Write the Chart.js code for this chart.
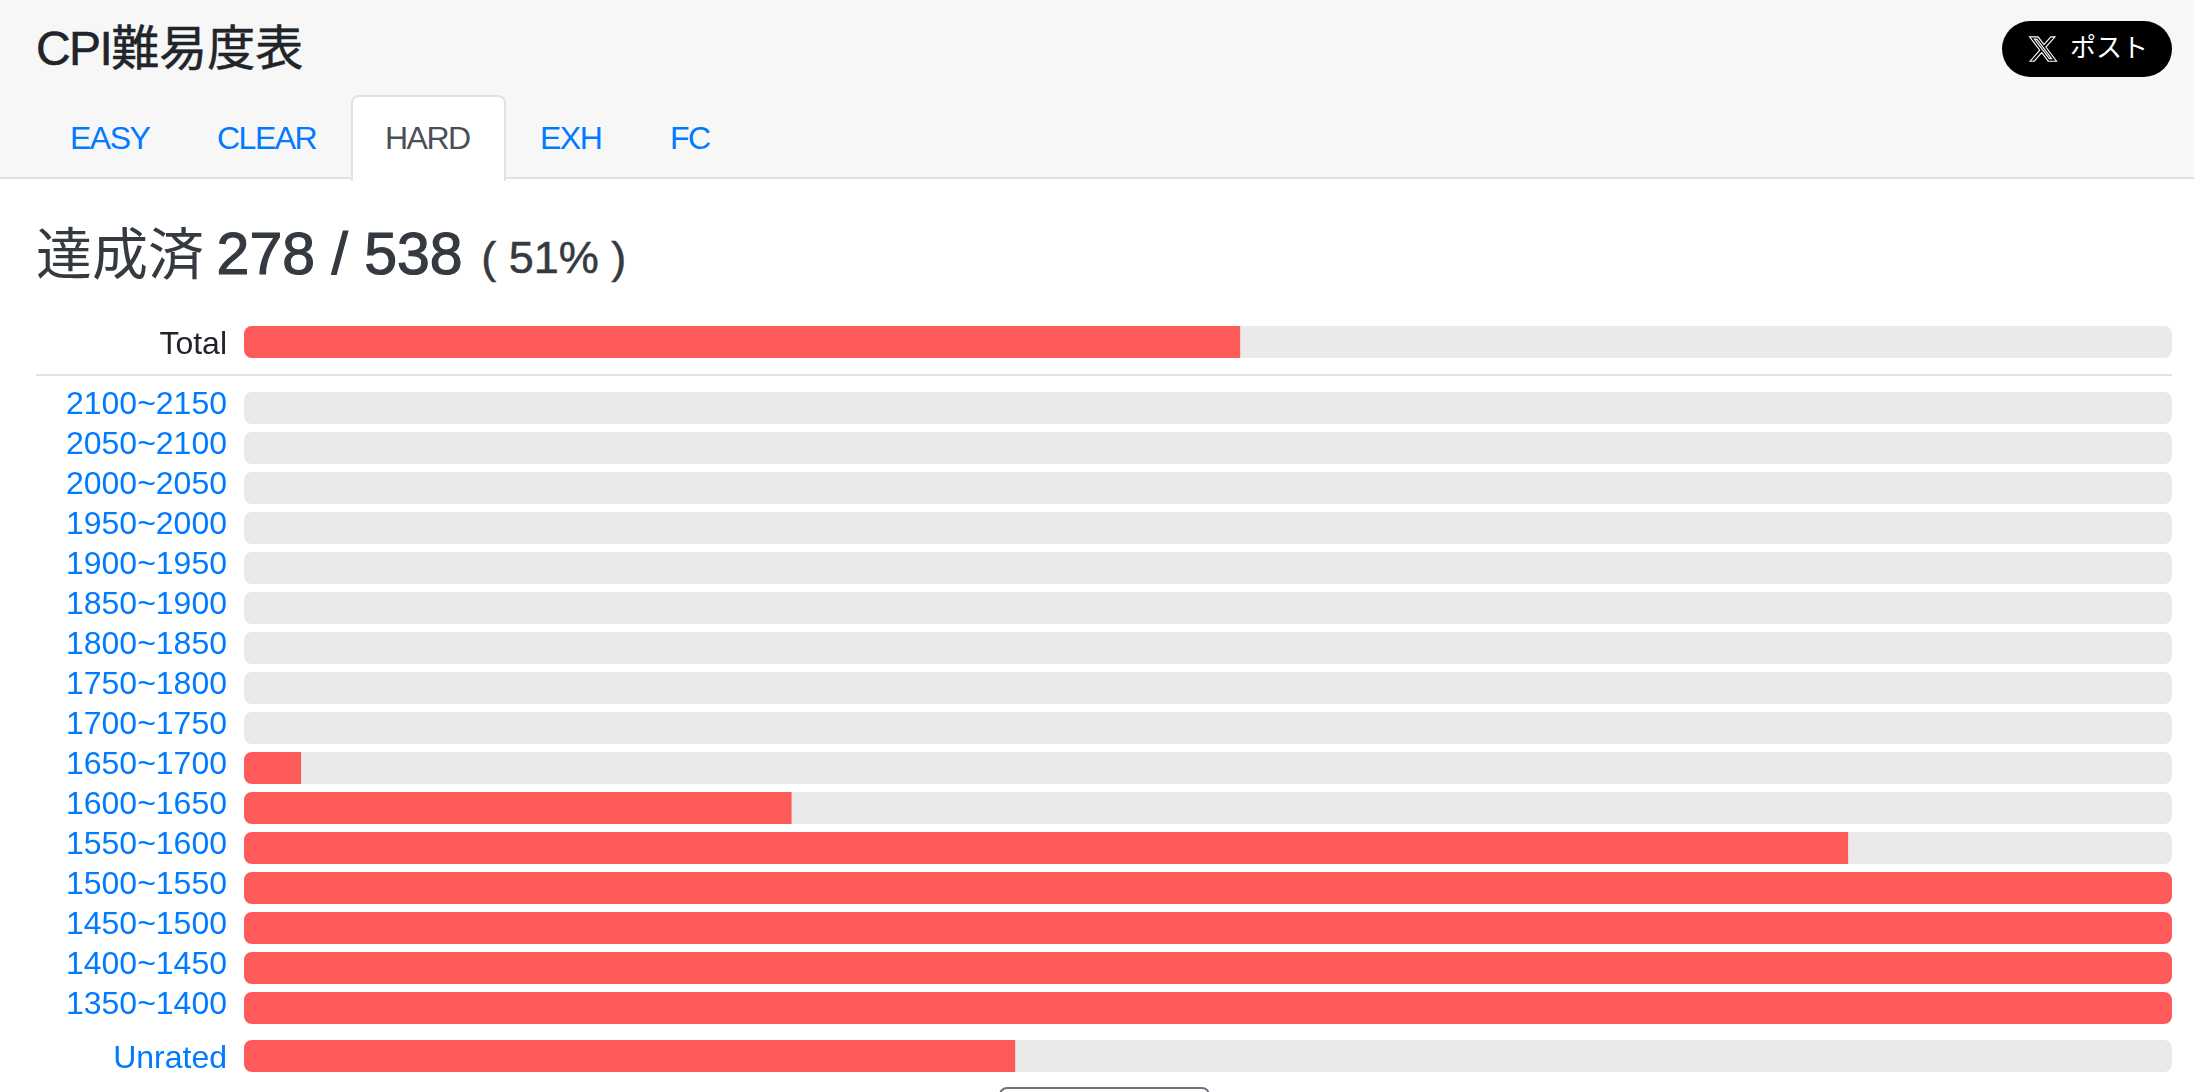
<!DOCTYPE html>
<html lang="ja">
<head>
<meta charset="utf-8">
<title>CPI難易度表</title>
<script src="https://cdn.jsdelivr.net/npm/chart.js@4"></script>
<style>
html, body { margin: 0; padding: 0; background: #fff; overflow: hidden; }
body { width: 2194px; height: 1092px; position: relative; font-family: "Liberation Sans", "Noto Sans CJK JP", sans-serif; }
.header { position: absolute; left: 0; top: 0; width: 2194px; height: 177px; background: #f7f7f7; border-bottom: 2px solid #dee2e6; }
.title { position: absolute; left: 36px; top: 20px; font-size: 48px; line-height: 58px; color: #212529; -webkit-text-stroke: 0.5px #212529; }
.title span { letter-spacing: -1.6px; }
.post { position: absolute; left: 2002px; top: 21px; width: 170px; height: 56px; border-radius: 28px; background: #000; color: #fff; font-size: 26px; line-height: 54px; }
.post svg { position: absolute; left: 26px; top: 13px; width: 30px; height: 30px; }
.post span { position: absolute; left: 68px; white-space: nowrap; }
.tab { position: absolute; top: 125px; font-size: 32px; line-height: 26px; color: #007bff; letter-spacing: -1.5px; }
.tab-active { position: absolute; left: 351px; top: 95px; width: 151px; height: 84px; background: #fff; border: 2px solid #dee2e6; border-bottom: none; border-radius: 8px 8px 0 0; box-sizing: content-box; }
.heading { position: absolute; left: 36px; top: 220px; font-size: 56px; line-height: 68px; color: #343a40; white-space: nowrap; }
.heading b { font-weight: 400; font-size: 59px; -webkit-text-stroke: 1.2px #343a40; margin-left: -3px; }
.heading small { font-size: 45px; -webkit-text-stroke: 0.5px #343a40; margin-left: 3px; position: relative; top: -1px; }
hr { position: absolute; left: 36px; top: 374px; width: 2136px; height: 2px; margin: 0; border: 0; background: #dee2e6; }
canvas { position: absolute; left: 36px; }
.more { position: absolute; left: 999px; top: 1087px; width: 207px; height: 40px; border: 2px solid #6c757d; border-radius: 8px; background: #fff; }
</style>
</head>
<body>
<div class="header">
  <div class="title"><span>CPI</span>難易度表</div>
  <div class="post">
    <svg viewBox="0 0 24 24"><path fill="none" stroke="#fff" stroke-width="0.9" d="M18.244 2.25h3.308l-7.227 8.26 8.502 11.24H16.17l-5.214-6.817L4.99 21.75H1.68l7.73-8.835L1.254 2.25H8.08l4.713 6.231zm-1.161 17.52h1.833L7.084 4.126H5.117z"/></svg>
    <span>ポスト</span>
  </div>
  <div class="tab-active"></div>
  <div class="tab" style="left:70px">EASY</div>
  <div class="tab" style="left:217px">CLEAR</div>
  <div class="tab" style="left:385px;color:#495057">HARD</div>
  <div class="tab" style="left:540px">EXH</div>
  <div class="tab" style="left:670px">FC</div>
</div>
<div class="heading">達成済 <b>278 / 538</b> <small>( 51% )</small></div>

<canvas id="totalChart" width="2136" height="40" style="top:322px"></canvas>
<hr>
<canvas id="rangeChart" width="2136" height="640" style="top:388px"></canvas>
<canvas id="unratedChart" width="2136" height="40" style="top:1036px"></canvas>
<div class="more"></div>

<script>
// percent cleared per row
const totalLabels = ["Total"];
const totalValues = [51.67];

const rangeLabels = [
    "2100~2150", "2050~2100", "2000~2050", "1950~2000",
    "1900~1950", "1850~1900", "1800~1850", "1750~1800",
    "1700~1750", "1650~1700", "1600~1650", "1550~1600",
    "1500~1550", "1450~1500", "1400~1450", "1350~1400"
];
const rangeValues = [0, 0, 0, 0, 0, 0, 0, 0, 0, 2.96, 28.4, 83.2, 100, 100, 100, 100];

const unratedLabels = ["Unrated"];
const unratedValues = [40];

const doneColor = "#ff5a5a";
const trackColor = "#eaeaea";

function makeChart(canvasId, labels, values, labelColor, labelOffset) {
    return new Chart(document.getElementById(canvasId), {
        type: "bar",
        data: {
            labels: labels,
            datasets: [
                {
                    data: values,
                    backgroundColor: doneColor,
                    grouped: false,
                    barThickness: 32,
                    borderSkipped: false,
                    inflateAmount: 0,
                    // square right end unless the bar is full
                    borderRadius: (ctx) => {
                        const r = ctx.raw >= 100 ? 8 : 0;
                        return { topLeft: 8, bottomLeft: 8, topRight: r, bottomRight: r };
                    }
                },
                {
                    data: labels.map(() => 100),
                    backgroundColor: trackColor,
                    grouped: false,
                    barThickness: 32,
                    borderSkipped: false,
                    inflateAmount: 0,
                    borderRadius: 8
                }
            ]
        },
        options: {
            indexAxis: "y",
            responsive: false,
            animation: false,
            layout: { padding: 0 },
            plugins: { legend: { display: false }, tooltip: { enabled: false } },
            scales: {
                x: { display: false, min: 0, max: 100 },
                y: {
                    grid: { display: false, drawTicks: false },
                    border: { display: false },
                    // fixed label column, and no extra room for the first/last label
                    afterFit: (scale) => {
                        scale.width = 208;
                        scale.paddingTop = 0;
                        scale.paddingBottom = 0;
                    },
                    ticks: {
                        autoSkip: false,
                        padding: 17,
                        labelOffset: labelOffset,
                        color: labelColor,
                        font: { family: '"Liberation Sans", sans-serif', size: 32 }
                    }
                }
            }
        }
    });
}

makeChart("totalChart", totalLabels, totalValues, "#212529", 3);
makeChart("rangeChart", rangeLabels, rangeValues, "#007bff", -3);
makeChart("unratedChart", unratedLabels, unratedValues, "#007bff", 3);
</script>
</body>
</html>
